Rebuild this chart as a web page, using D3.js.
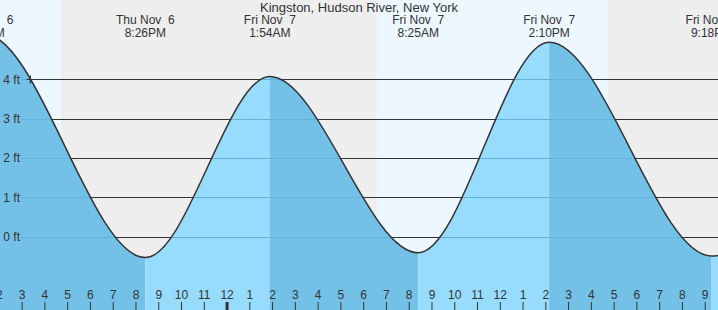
<!DOCTYPE html>
<html>
<head>
<meta charset="utf-8">
<script src="https://cdn.jsdelivr.net/npm/d3@7"></script>
<style>
  body { margin: 0; background: #fff; }
  svg { display: block; font-family: Arial, "Liberation Sans", sans-serif; }
  text { fill: #333; white-space: pre; }
</style>
</head>
<body>
<svg width="718" height="310"></svg>
<script>
var title = "Kingston, Hudson River, New York";

// tide extremes (first and last are just off the chart)
var tideTimes = ["2025-11-06T07:05", "2025-11-06T13:21", "2025-11-06T20:26", "2025-11-07T01:54",
                 "2025-11-07T08:25", "2025-11-07T14:10", "2025-11-07T21:18", "2025-11-08T03:30"];
var tideHeights = [-0.5, 5.15, -0.53, 4.07, -0.41, 4.94, -0.49, 4.2];
var tideDays = ["Thu Nov  6", "Thu Nov  6", "Thu Nov  6", "Fri Nov  7", "Fri Nov  7", "Fri Nov  7", "Fri Nov  7", "Sat Nov  8"];
var tideLabels = ["7:05AM", "1:21PM", "8:26PM", "1:54AM", "8:25AM", "2:10PM", "9:18PM", "3:30AM"];

// sunset / sunrise boundaries (day = light blue, night = grey)
var sunTimes = ["2025-11-06T16:43", "2025-11-07T06:36", "2025-11-07T16:45"];
var timeRange = ["2025-11-06T14:03", "2025-11-07T21:35"];
var feetTicks = [0, 1, 2, 3, 4];
var nowTime = "2025-11-06T15:23", nowHeight = 4.0;

var parse = d3.timeParse("%Y-%m-%dT%H:%M");

window.onload = function() {
  var svg = d3.select("svg");
  var width = +svg.attr("width");
  var height = +svg.attr("height");

  var x = d3.scaleTime()
    .domain(timeRange.map(parse))
    .range([0, width]);
  var y = d3.scaleLinear()
    .domain([0, 4])
    .range([236.7, 79.3]);

  var tides = tideTimes.map(function(t, i) {
    return {time: parse(t), h: tideHeights[i], day: tideDays[i], label: tideLabels[i]};
  });

  // day / night bands
  var edges = [x.domain()[0]].concat(sunTimes.map(parse)).concat([x.domain()[1]]);
  var bands = d3.pairs(edges);
  svg.append("g").selectAll("rect")
    .data(bands)
    .enter().append("rect")
    .attr("x", function(d) { return x(d[0]); })
    .attr("width", function(d) { return x(d[1]) - x(d[0]); })
    .attr("y", 0)
    .attr("height", height)
    .attr("fill", function(d, i) { return i % 2 == 0 ? "#edf7ff" : "#eeeeee"; });

  // grid lines
  svg.append("g").selectAll("line")
    .data(feetTicks)
    .enter().append("line")
    .attr("x1", 22).attr("x2", width)
    .attr("y1", function(d) { return Math.round(y(d)) + 0.5; })
    .attr("y2", function(d) { return Math.round(y(d)) + 0.5; })
    .attr("stroke", "#333");

  var area = d3.area()
    .curve(d3.curveMonotoneX)
    .x(function(d) { return x(d.time); })
    .y0(height)
    .y1(function(d) { return y(d.h); });

  var line = d3.line()
    .curve(d3.curveMonotoneX)
    .x(function(d) { return x(d.time); })
    .y(function(d) { return y(d.h); });

  svg.append("clipPath").attr("id", "water")
    .append("path").attr("d", area(tides));

  var water = svg.append("g").attr("clip-path", "url(#water)");
  // falling tide darker, rising tide lighter
  water.selectAll("rect")
    .data(d3.pairs(tides))
    .enter().append("rect")
    .attr("x", function(d) { return x(d[0].time); })
    .attr("width", function(d) { return x(d[1].time) - x(d[0].time); })
    .attr("y", 0)
    .attr("height", height)
    .attr("fill", function(d) { return d[0].h > d[1].h ? "#73c1e6" : "#97dcfd"; });

  water.selectAll("line")
    .data(feetTicks)
    .enter().append("line")
    .attr("x1", 22).attr("x2", width)
    .attr("y1", function(d) { return Math.round(y(d)) + 0.5; })
    .attr("y2", function(d) { return Math.round(y(d)) + 0.5; })
    .attr("stroke", "#61b1db");

  svg.append("path")
    .attr("d", line(tides))
    .attr("fill", "none")
    .attr("stroke", "#333")
    .attr("stroke-width", 1.5);

  // feet labels
  svg.append("g").selectAll("text")
    .data(feetTicks)
    .enter().append("text")
    .attr("x", 20)
    .attr("y", function(d) { return y(d); })
    .attr("dy", "0.35em")
    .attr("text-anchor", "end")
    .attr("font-size", 12)
    .text(function(d) { return d + " ft"; });

  // current position marker
  var nx = x(parse(nowTime)), ny = Math.round(y(nowHeight)) + 0.5;
  svg.append("path")
    .attr("d", "M" + (nx - 4) + "," + ny + "H" + (nx + 4) + "M" + nx + "," + (ny - 4) + "V" + (ny + 4))
    .attr("stroke", "#333")
    .attr("stroke-width", 1.2);

  // hour axis (include the hour just before the left edge, it is half shown)
  var hours = d3.timeHour.range(d3.timeHour.floor(x.domain()[0]), x.domain()[1]);
  var axis = svg.append("g")
    .attr("transform", "translate(0," + height + ")")
    .call(d3.axisTop(x)
      .tickValues(hours)
      .tickFormat(d3.timeFormat("%-I"))
      .tickSize(8)
      .tickPadding(3));
  axis.select(".domain").remove();
  axis.selectAll("text").attr("font-size", 12).attr("font-family", null).attr("fill", "#333");
  axis.selectAll(".tick line")
    .attr("stroke", "#333")
    .attr("stroke-width", function(d) { return d.getHours() == 0 ? 3 : 1; });

  // extreme labels
  var lab = svg.append("g").selectAll("g")
    .data(tides)
    .enter().append("g")
    .attr("transform", function(d) { return "translate(" + x(d.time) + ",0)"; })
    .attr("text-anchor", "middle")
    .attr("font-size", 12);
  lab.append("text").attr("y", 24).text(function(d) { return d.day; });
  lab.append("text").attr("y", 37).text(function(d) { return d.label; });

  svg.append("text")
    .attr("x", 359)
    .attr("y", 12)
    .attr("text-anchor", "middle")
    .attr("font-size", 13)
    .text(title);
};
</script>
</body>
</html>
